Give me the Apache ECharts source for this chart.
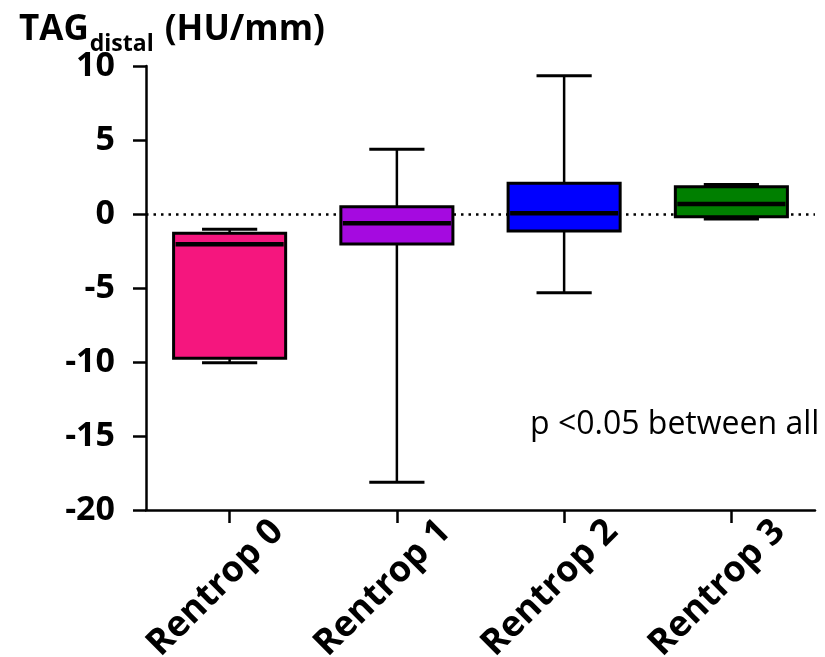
<!DOCTYPE html>
<html>
<head>
<meta charset="utf-8">
<script src="https://cdn.jsdelivr.net/npm/echarts@6/dist/echarts.min.js"></script>
<style>
html,body{margin:0;padding:0;background:#fff;}
#main{width:825px;height:657px;}
</style>
</head>
<body>
<div id="main"></div>
<script>
const categories = ['Rentrop 0', 'Rentrop 1', 'Rentrop 2', 'Rentrop 3'];
const minVals    = [-10.05, -18.13, -5.32, -0.34];
const q1Vals     = [-9.75, -2.03, -1.15, -0.18];
const medianVals = [-2.05, -0.63, 0.05, 0.68];
const q3Vals     = [-1.30, 0.49, 2.07, 1.84];
const maxVals    = [-1.03, 4.37, 9.34, 2.00];
const yTicks     = [-20, -15, -10, -5, 0, 5, 10];
const referenceLine = [0];
const titleMain = 'TAG';
const titleSub = 'distal';
const titleUnit = ' (HU/mm)';
const note = 'p <0.05 between all';

const boxColors = ['#F5167E', '#A50AE0', '#0000FF', '#007F00'];

const boxData = categories.map((c, i) => [i, minVals[i], q1Vals[i], medianVals[i], q3Vals[i], maxVals[i]]);

// measure title pieces so the subscript sits right after "TAG"
const mctx = document.createElement('canvas').getContext('2d');
function textW(str, font) { mctx.font = font; return mctx.measureText(str).width; }
const mainFont = 'bold 35px "Open Sans"';
const subFont = 'bold 23px "Open Sans"';
const titleLeft = 19;
const wMain = textW(titleMain, mainFont);
const wSub = textW(titleSub, subFont);

function renderItem(params, api) {
  const idx = api.value(0);
  const band = api.size([1, 0])[0];
  const bw = band * 0.67;
  const cw = band * 0.33;
  const pMin = api.coord([idx, api.value(1)]);
  const pQ1 = api.coord([idx, api.value(2)]);
  const pMed = api.coord([idx, api.value(3)]);
  const pQ3 = api.coord([idx, api.value(4)]);
  const pMax = api.coord([idx, api.value(5)]);
  const x = pMin[0];
  const lineStyle = { stroke: '#000', lineWidth: 2.5 };
  return {
    type: 'group',
    children: [
      { type: 'line', shape: { x1: x, y1: pQ3[1], x2: x, y2: pMax[1] }, style: lineStyle },
      { type: 'line', shape: { x1: x, y1: pQ1[1], x2: x, y2: pMin[1] }, style: lineStyle },
      { type: 'line', shape: { x1: x - cw / 2, y1: pMax[1], x2: x + cw / 2, y2: pMax[1] }, style: { stroke: '#000', lineWidth: 3 } },
      { type: 'line', shape: { x1: x - cw / 2, y1: pMin[1], x2: x + cw / 2, y2: pMin[1] }, style: { stroke: '#000', lineWidth: 3 } },
      { type: 'rect', shape: { x: x - bw / 2, y: pQ3[1], width: bw, height: pQ1[1] - pQ3[1] },
        style: { fill: boxColors[params.dataIndex], stroke: '#000', lineWidth: 3 } },
      { type: 'line', shape: { x1: x - bw / 2 + 2, y1: pMed[1], x2: x + bw / 2 - 2, y2: pMed[1] }, style: { stroke: '#000', lineWidth: 4.5 } }
    ]
  };
}

const chart = echarts.init(document.getElementById('main'), null, { renderer: 'canvas' });
chart.setOption({
  animation: false,
  backgroundColor: '#fff',
  textStyle: { fontFamily: 'Open Sans' },
  grid: { left: 146, right: 10, top: 66, bottom: 147, containLabel: false, outerBoundsMode: 'none' },
  title: [
    {
      text: titleMain, left: titleLeft, top: 13, padding: 0,
      textStyle: { fontFamily: 'Open Sans', fontWeight: 'bold', fontSize: 35, lineHeight: 35, color: '#000' }
    },
    {
      text: titleSub, left: titleLeft + wMain + 1, top: 33, padding: 0,
      textStyle: { fontFamily: 'Open Sans', fontWeight: 'bold', fontSize: 23, lineHeight: 23, color: '#000' }
    },
    {
      text: titleUnit, left: titleLeft + wMain + wSub + 3, top: 13, padding: 0,
      textStyle: { fontFamily: 'Open Sans', fontWeight: 'bold', fontSize: 35, lineHeight: 35, color: '#000' }
    },
    {
      text: note, left: 525, top: 404,
      textStyle: { fontFamily: 'Open Sans', fontWeight: 'normal', fontSize: 32, color: '#000' }
    }
  ],
  xAxis: {
    type: 'category',
    data: categories,
    boundaryGap: true,
    axisLine: { show: true, onZero: false, lineStyle: { color: '#000', width: 2.5 } },
    axisTick: { show: true, alignWithLabel: true, length: 13, lineStyle: { color: '#000', width: 2.5 } },
    axisLabel: {
      rotate: 45, interval: 0, margin: 64,
      align: 'center', verticalAlign: 'middle', padding: [0, 40, 0, 0],
      fontFamily: 'Open Sans', fontWeight: 'bold', fontSize: 36, color: '#000'
    },
    splitLine: { show: false }
  },
  yAxis: {
    type: 'value',
    min: yTicks[0], max: yTicks[yTicks.length - 1], interval: 5,
    axisLine: { show: true, onZero: false, lineStyle: { color: '#000', width: 2.5 } },
    axisTick: { show: true, length: 13, lineStyle: { color: '#000', width: 2.5 } },
    axisLabel: { margin: 31, fontFamily: 'Open Sans', fontWeight: 'bold', fontSize: 34, color: '#000' },
    splitLine: { show: false }
  },
  series: [
    {
      type: 'custom',
      renderItem: renderItem,
      data: boxData,
      encode: { x: 0, y: [1, 2, 3, 4, 5] },
      z: 2,
      markLine: {
        z: 1,
        silent: true,
        symbol: 'none',
        label: { show: false },
        lineStyle: { color: '#000', type: [2.5, 5], width: 2.5 },
        data: referenceLine.map(v => ({ yAxis: v }))
      }
    }
  ]
});
</script>
</body>
</html>
